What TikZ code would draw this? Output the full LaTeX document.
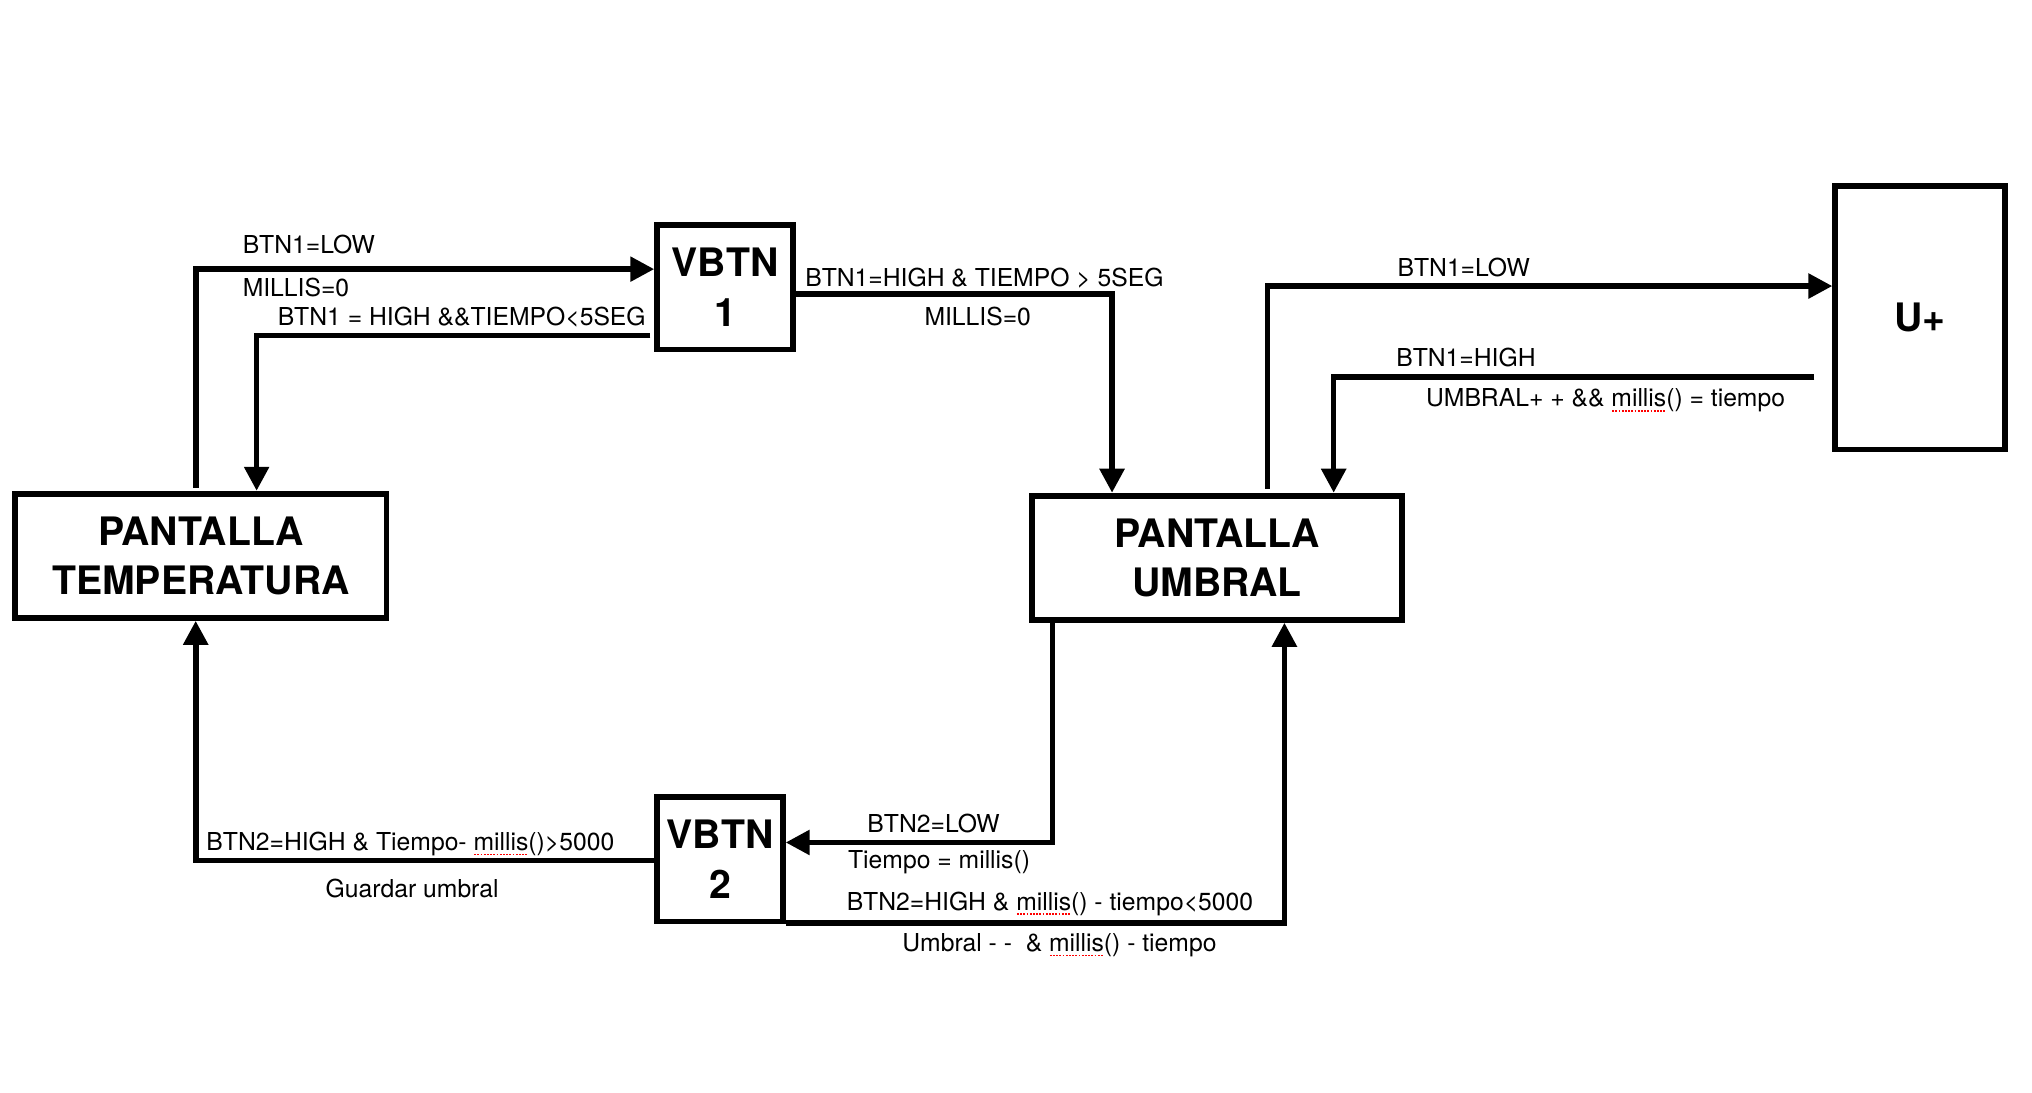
\documentclass[tikz,border=0pt]{standalone}
\usepackage{fontspec}
\setmainfont{TeX Gyre Heros}
\usetikzlibrary{arrows.meta}
\newcommand\spellmark[1]{\setbox0\hbox{#1}\rlap{\color{red}\raisebox{-2.4pt}{\hbox to \wd0{\leaders\hbox to 1.6pt{\hss\rule{0.9pt}{0.7pt}\hss}\hfill}}}\box0}
\tikzset{
  box/.style={draw, line width=2.9pt, inner sep=0pt, align=center,
    font=\fontsize{19.6}{24.7}\selectfont\bfseries},
  conn/.style={line width=2.8pt, -{Triangle[length=12pt,width=12pt]}},
  lbl/.style={anchor=base west, inner sep=0pt, font=\fontsize{12.35}{14}\selectfont}
}
\begin{document}
\begin{tikzpicture}[x=0.648pt,y=-0.65pt]
\useasboundingbox (0,0) rectangle (1567.8,840);
\fill[white] (0,0) rectangle (1567.8,840);
% boxes
\node[box, minimum width=185.6pt, minimum height=62.1pt] (temp) at (155,427.5) {PANTALLA\\TEMPERATURA};
\node[box, minimum width=185pt, minimum height=62.1pt] (umbral) at (939,429) {PANTALLA\\UMBRAL};
\node[box, minimum width=68pt, minimum height=62.1pt] (vbtn1) at (559.5,221) {VBTN\\1};
\node[box, minimum width=62.8pt, minimum height=62.1pt] (vbtn2) at (555.5,661) {VBTN\\2};
\node[box, minimum width=84.9pt, minimum height=131.7pt] (uplus) at (1481.5,244.5) {U+};
% corner points
\coordinate (k1) at (151,207);
\coordinate (k2) at (198,258);
\coordinate (k3) at (858,226);
\coordinate (k4) at (978,220);
\coordinate (k5) at (1029,290);
\coordinate (k6) at (812,648);
\coordinate (k7) at (991,710);
\coordinate (k8) at (151,662);
% connectors
\draw[conn, shorten <=1.5pt] (temp.north -| k1) -- (k1) -- (vbtn1.west |- k1);
\draw[conn, shorten <=2pt] (vbtn1.west |- k2) -- (k2) -- (temp.north -| k2);
\draw[conn] (vbtn1.east |- k3) -- (k3) -- (umbral.north -| k3);
\draw[conn, shorten <=2pt] (umbral.north -| k4) -- (k4) -- (uplus.west |- k4);
\draw[conn, shorten <=9pt] (uplus.west |- k5) -- (k5) -- (umbral.north -| k5);
\draw[conn] (umbral.south -| k6) -- (k6) -- (vbtn2.east |- k6);
\draw[conn] (vbtn2.east |- k7) -- (k7) -- (umbral.south -| k7);
\draw[conn] (vbtn2.west |- k8) -- (k8) -- (temp.south -| k8);
% labels
\node[lbl] (l1) at (187,195) {BTN1=LOW};
\node[lbl] (l2) at (187,228) {MILLIS=0};
\node[lbl] (l3) at (214,250) {BTN1 = HIGH \&\&TIEMPO<5SEG};
\node[lbl] (l4) at (621,220) {BTN1=HIGH \& TIEMPO > 5SEG};
\node[lbl] (l5) at (713,250) {MILLIS=0};
\node[lbl] (l6) at (1078,213) {BTN1=LOW};
\node[lbl] (l7) at (1077,282) {BTN1=HIGH};
\node[lbl] (l8) at (1100,313) {UMBRAL+ + \&\& \spellmark{millis}() = tiempo};
\node[lbl] (l9) at (669,640) {BTN2=LOW};
\node[lbl] (l10) at (654,668) {Tiempo = millis()};
\node[lbl] (l11) at (653,700) {BTN2=HIGH \& \spellmark{millis}() - tiempo<5000};
\node[lbl] (l12) at (696,732) {Umbral - -\ \ \& \spellmark{millis}() - tiempo};
\node[lbl] (l13) at (159,654) {BTN2=HIGH \& Tiempo- \spellmark{millis}()>5000};
\node[lbl] (l14) at (251,690) {Guardar umbral};
\end{tikzpicture}
\end{document}
